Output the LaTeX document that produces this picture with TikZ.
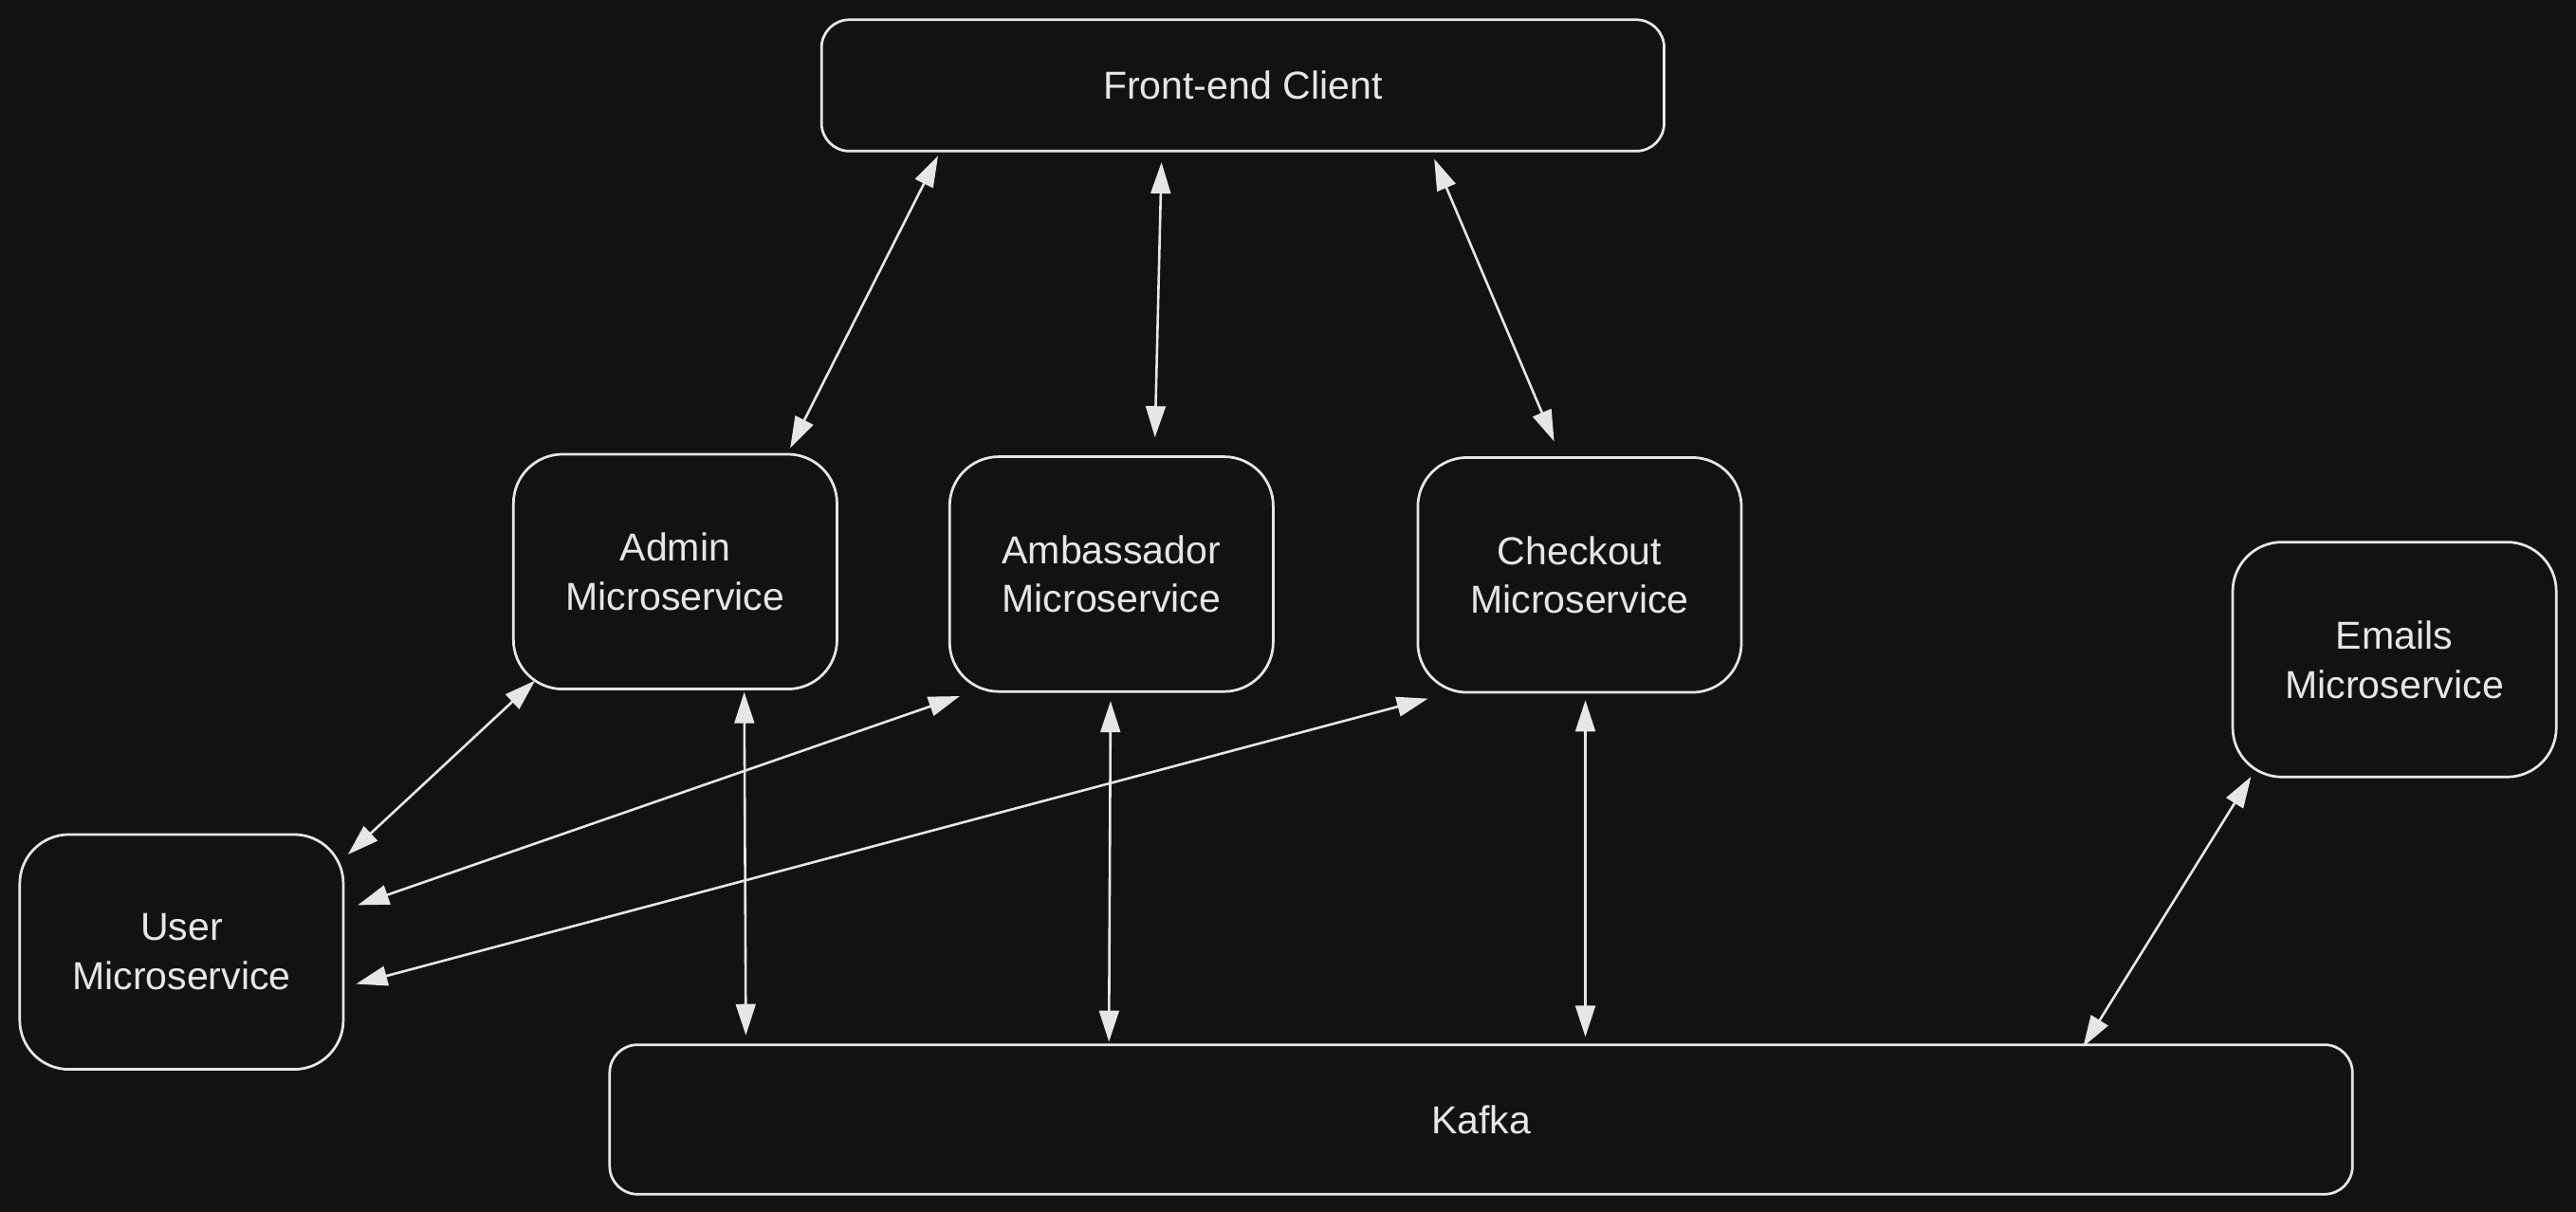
\documentclass[tikz,border=0pt]{standalone}
\usepackage{fontspec}
\setmainfont{Liberation Sans}
\usetikzlibrary{arrows.meta}
\definecolor{bgc}{HTML}{121212}
\definecolor{fgc}{HTML}{E6E6E6}
\begin{document}
\begin{tikzpicture}[x=0.02cm,y=-0.02cm,
  box/.style={draw=fgc, fill=bgc, text=fgc, line width=0.9pt, align=center, inner sep=0pt,
    font=\fontsize{13.5}{17}\selectfont},
  smallbox/.style={box, rounded corners=0.6cm, minimum width=3.94cm, minimum height=2.86cm},
  widebox/.style={box, rounded corners=0.34cm},
  biarrow/.style={draw=fgc, line width=0.85pt,
    {Triangle[length=0.38cm,width=0.24cm]}-{Triangle[length=0.38cm,width=0.24cm]}}]
\fill[bgc] (0,0) rectangle (1568,737.8);
\useasboundingbox (0,0) rectangle (1568,737.8);

\node[widebox, minimum width=10.26cm, minimum height=1.6cm] (front) at (756.5,52) {Front-end Client};
\node[smallbox] (admin) at (411,348) {Admin\\Microservice};
\node[smallbox] (amb) at (676.5,349.5) {Ambassador\\Microservice};
\node[smallbox] (check) at (961.5,350) {Checkout\\Microservice};
\node[smallbox] (emails) at (1457.5,401.5) {Emails\\Microservice};
\node[smallbox] (user) at (110.5,579.5) {User\\Microservice};
\node[widebox, minimum width=21.22cm, minimum height=1.82cm] (kafka) at (901.5,681.5) {Kafka};

\draw[biarrow] ([shift={(-185.5,2)}]front.south) -- ([shift={(70,-3)}]admin.north);
\draw[biarrow] ([shift={(-49.5,6)}]front.south) -- ([shift={(26.5,-11)}]amb.north);
\draw[biarrow] ([shift={(116.5,4)}]front.south) -- ([shift={(-15.5,-9)}]check.north);
\draw[biarrow] ([shift={(14,-6)}]admin.south west) -- ([shift={(2,13)}]user.north east);
\draw[biarrow] ([shift={(7,2)}]amb.south west) -- ([shift={(8,-28.5)}]user.east);
\draw[biarrow] ([shift={(7,3)}]check.south west) -- ([shift={(7,19.5)}]user.east);
\draw[biarrow] ([shift={(42,1)}]admin.south) -- ([shift={(-447.5,-5)}]kafka.north);
\draw[biarrow] ([shift={(-0.5,5)}]amb.south) -- ([shift={(-226.5,-1)}]kafka.north);
\draw[biarrow] ([shift={(3.5,4)}]check.south) -- ([shift={(63.5,-4)}]kafka.north);
\draw[biarrow] ([shift={(12,-1)}]emails.south west) -- ([shift={(366.5,2)}]kafka.north);
\end{tikzpicture}
\end{document}
